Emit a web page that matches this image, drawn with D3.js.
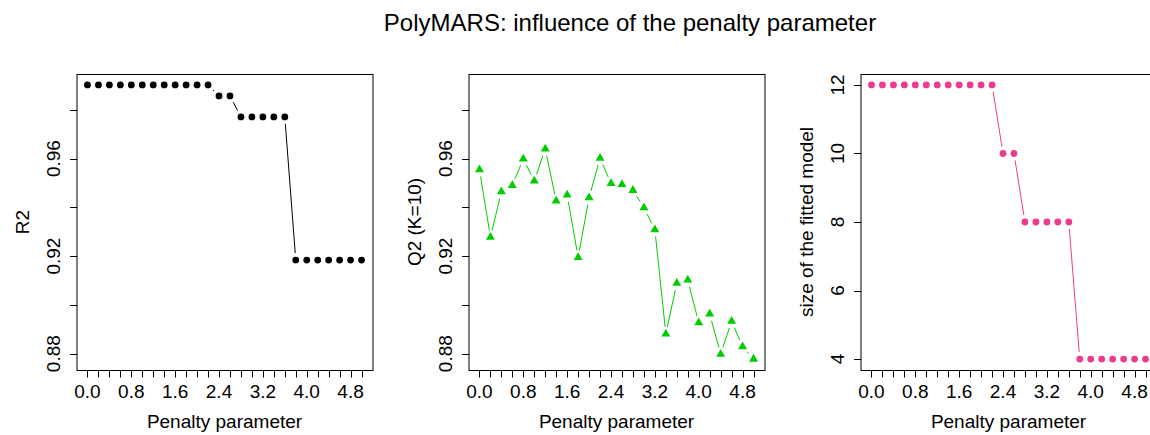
<!DOCTYPE html>
<html>
<head>
<meta charset="utf-8">
<script src="https://cdn.jsdelivr.net/npm/d3@7"></script>
<style>
  html, body { margin: 0; padding: 0; background: #fff; }
  svg { display: block; font-family: "Liberation Sans", Arial, Helvetica, sans-serif; }
</style>
</head>
<body>
<svg id="chart" width="1150" height="435"></svg>
<script>
// ---- data ----
const penalty = [0.0, 0.2, 0.4, 0.6, 0.8, 1.0, 1.2, 1.4, 1.6, 1.8, 2.0, 2.2, 2.4,
                 2.6, 2.8, 3.0, 3.2, 3.4, 3.6, 3.8, 4.0, 4.2, 4.4, 4.6, 4.8, 5.0];
const xTickLabels = ["0.0", "0.8", "1.6", "2.4", "3.2", "4.0", "4.8"];
const r2 = [0.9902, 0.9902, 0.9902, 0.9902, 0.9902, 0.9902, 0.9902, 0.9902, 0.9902,
            0.9902, 0.9902, 0.9902, 0.9857, 0.9857, 0.9771, 0.9771, 0.9771, 0.9771,
            0.9771, 0.9184, 0.9184, 0.9184, 0.9184, 0.9184, 0.9184, 0.9184];
const q2 = [0.9555, 0.9278, 0.9464, 0.9490, 0.9599, 0.9508, 0.9640, 0.9426, 0.9451,
            0.9195, 0.9440, 0.9602, 0.9498, 0.9494, 0.9470, 0.9399, 0.9309, 0.8881,
            0.9089, 0.9102, 0.8927, 0.8963, 0.8798, 0.8933, 0.8829, 0.8778];
const modelSize = [12, 12, 12, 12, 12, 12, 12, 12, 12, 12, 12, 12, 10, 10, 8, 8, 8, 8, 8,
                   4, 4, 4, 4, 4, 4, 4];
const rTicks = [0.88, 0.90, 0.92, 0.94, 0.96, 0.98];
const rTickLabels = ["0.88", "0.92", "0.96"];
const sizeTicks = [4, 6, 8, 10, 12];
const titleText = "PolyMARS: influence of the penalty parameter";

// ---- layout ----
const svg = d3.select("#chart");
const plotTop = 74, plotBottom = 370, plotW = 296;
const fontSize = 19;

function padExtent(vals) {
  const [a, b] = d3.extent(vals);
  const p = (b - a) * 0.04;
  return [a - p, b + p];
}
const qrDomain = padExtent(r2.concat(q2));
const xDomain = padExtent(penalty);

function drawPanel(cfg) {
  const g = svg.append("g");
  const x = d3.scaleLinear().domain(xDomain).range([cfg.left, cfg.left + plotW]);
  const y = d3.scaleLinear().domain(cfg.yDomain).range([plotBottom, plotTop]);

  // box
  g.append("rect").attr("x", cfg.left + 0.5).attr("y", plotTop + 0.5)
    .attr("width", plotW).attr("height", plotBottom - plotTop)
    .attr("fill", "none").attr("stroke", "#000").attr("stroke-width", 1);

  // x axis ticks
  const xa = g.append("g").attr("transform", `translate(0,${plotBottom + 0.5})`);
  xa.selectAll("line.tk").data(penalty).enter().append("line").attr("class", "tk")
    .attr("x1", d => Math.round(x(d)) + 0.5).attr("x2", d => Math.round(x(d)) + 0.5)
    .attr("y1", 0).attr("y2", 7).attr("stroke", "#000");
  xa.selectAll("text").data(xTickLabels).enter().append("text")
    .attr("x", d => x(+d)).attr("y", 27)
    .attr("text-anchor", "middle").attr("font-size", fontSize).attr("fill", "#000")
    .text(d => d);

  // y axis ticks
  const ya = g.append("g").attr("transform", `translate(${cfg.left + 0.5},0)`);
  ya.selectAll("line.tk").data(cfg.yTicks).enter().append("line").attr("class", "tk")
    .attr("x1", 0).attr("x2", -7)
    .attr("y1", d => Math.round(y(d)) + 0.5).attr("y2", d => Math.round(y(d)) + 0.5)
    .attr("stroke", "#000");
  ya.selectAll("text").data(cfg.yTickLabels).enter().append("text")
    .attr("transform", d => `translate(-17,${y(+d)}) rotate(-90)`)
    .attr("text-anchor", "middle").attr("font-size", fontSize).attr("fill", "#000")
    .text(d => d);

  // axis titles
  g.append("text").attr("x", cfg.left + plotW / 2).attr("y", 428)
    .attr("text-anchor", "middle").attr("font-size", fontSize).attr("fill", "#000")
    .text("Penalty parameter");
  g.append("text")
    .attr("transform", `translate(${cfg.left - 48},${(plotTop + plotBottom) / 2}) rotate(-90)`)
    .attr("text-anchor", "middle").attr("font-size", fontSize).attr("fill", "#000")
    .text(cfg.yLabel);

  // type = "b" lines: segments with gaps around points
  const gap = 7;
  const pts = penalty.map((p, i) => [x(p), y(cfg.values[i])]);
  const segs = [];
  for (let i = 0; i < pts.length - 1; i++) {
    const [x0, y0] = pts[i], [x1, y1] = pts[i + 1];
    const L = Math.hypot(x1 - x0, y1 - y0);
    if (L > 2 * gap) {
      const ux = (x1 - x0) / L, uy = (y1 - y0) / L;
      segs.push([x0 + ux * gap, y0 + uy * gap, x1 - ux * gap, y1 - uy * gap]);
    }
  }
  g.selectAll("line.seg").data(segs).enter().append("line").attr("class", "seg")
    .attr("x1", d => d[0]).attr("y1", d => d[1]).attr("x2", d => d[2]).attr("y2", d => d[3])
    .attr("stroke", cfg.color).attr("stroke-width", 1);

  // points
  if (cfg.shape === "circle") {
    g.selectAll("circle.pt").data(pts).enter().append("circle").attr("class", "pt")
      .attr("cx", d => d[0]).attr("cy", d => d[1]).attr("r", 3.4)
      .attr("fill", cfg.color);
  } else {
    const s = 3.33, r = 1.5551 * s, hw = 1.3468 * s, yc = 0.7776 * s;
    g.selectAll("path.pt").data(pts).enter().append("path").attr("class", "pt")
      .attr("d", d => `M${d[0]},${d[1] - r}L${d[0] + hw},${d[1] + yc}L${d[0] - hw},${d[1] + yc}Z`)
      .attr("fill", cfg.color);
  }
}

drawPanel({ left: 76.5, yDomain: qrDomain, yTicks: rTicks, yTickLabels: rTickLabels,
            yLabel: "R2", values: r2, color: "#000000", shape: "circle" });
drawPanel({ left: 468.5, yDomain: qrDomain, yTicks: rTicks, yTickLabels: rTickLabels,
            yLabel: "Q2 (K=10)", values: q2, color: "#00CD00", shape: "triangle" });
drawPanel({ left: 860.5, yDomain: padExtent(modelSize), yTicks: sizeTicks,
            yTickLabels: sizeTicks.map(String),
            yLabel: "size of the fitted model", values: modelSize, color: "#EE3A8C", shape: "circle" });

svg.append("text").attr("x", 630).attr("y", 31).attr("text-anchor", "middle")
  .attr("font-size", 24).attr("fill", "#000").text(titleText);
</script>
</body>
</html>
